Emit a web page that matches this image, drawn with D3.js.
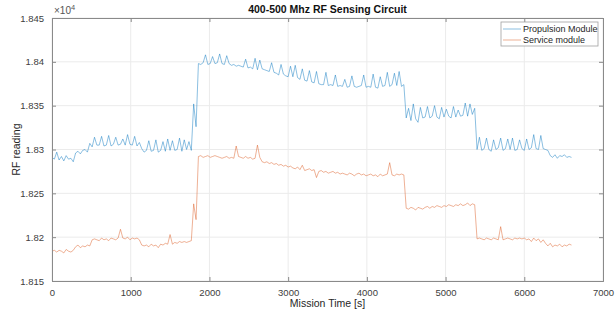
<!DOCTYPE html>
<html>
<head>
<meta charset="utf-8">
<script src="https://cdn.jsdelivr.net/npm/d3@7"></script>
<style>
  body { margin: 0; background: #fff; }
  text { font-family: "Liberation Sans", Arial, sans-serif; }
</style>
</head>
<body>
<div id="content"></div>
<script>
// readings sampled every 30 s, from t = 0 to t = 6600 s
let sampleStep = 30;

let propulsion = [
  18291, 18289, 18297, 18288, 18292, 18287, 18293, 18289, 18290, 18286,
  18296, 18298, 18295, 18299, 18300, 18297, 18307, 18303, 18314, 18305,
  18305, 18315, 18304, 18305, 18316, 18304, 18306, 18314, 18305, 18306,
  18312, 18305, 18317, 18306, 18305, 18315, 18304, 18308, 18301, 18297,
  18299, 18310, 18298, 18299, 18311, 18297, 18299, 18309, 18298, 18312,
  18299, 18310, 18299, 18300, 18313, 18298, 18311, 18300, 18309, 18299,
  18352, 18326, 18398, 18397, 18399, 18408, 18397, 18398, 18406, 18398,
  18399, 18409, 18398, 18397, 18407, 18398, 18396, 18397, 18395, 18396,
  18395, 18394, 18403, 18393, 18394, 18392, 18404, 18391, 18402, 18392,
  18391, 18390, 18389, 18399, 18388, 18387, 18385, 18397, 18386, 18384,
  18383, 18395, 18383, 18396, 18382, 18380, 18392, 18379, 18378, 18390,
  18377, 18376, 18389, 18375, 18374, 18374, 18388, 18373, 18374, 18373,
  18385, 18372, 18373, 18372, 18380, 18371, 18372, 18384, 18372, 18371,
  18372, 18373, 18385, 18371, 18372, 18371, 18386, 18371, 18370, 18383,
  18372, 18373, 18388, 18372, 18374, 18387, 18373, 18389, 18372, 18374,
  18336, 18347, 18333, 18352, 18335, 18331, 18348, 18336, 18337, 18349,
  18336, 18338, 18350, 18337, 18335, 18348, 18337, 18346, 18338, 18336,
  18349, 18337, 18345, 18338, 18339, 18353, 18338, 18352, 18340, 18347,
  18300, 18314, 18299, 18301, 18313, 18300, 18298, 18311, 18300, 18302,
  18313, 18299, 18301, 18312, 18300, 18313, 18299, 18300, 18311, 18301,
  18299, 18312, 18300, 18302, 18317, 18301, 18300, 18316, 18301, 18300,
  18299, 18293, 18291, 18294, 18290, 18293, 18292, 18294, 18291, 18292,
  18291
];

let service = [
  18184, 18185, 18183, 18185, 18184, 18182, 18186, 18184, 18183, 18185,
  18189, 18191, 18188, 18190, 18189, 18191, 18190, 18197, 18198, 18197,
  18196, 18199, 18197, 18198, 18196, 18199, 18198, 18197, 18199, 18209,
  18199, 18198, 18200, 18197, 18199, 18198, 18199, 18197, 18191, 18190,
  18191, 18189, 18192, 18190, 18191, 18188, 18192, 18191, 18193, 18192,
  18203, 18192, 18194, 18193, 18195, 18194, 18195, 18194, 18195, 18196,
  18238, 18220, 18292, 18293, 18291, 18292, 18293, 18291, 18292, 18293,
  18292, 18291, 18290, 18291, 18292, 18290, 18291, 18290, 18304, 18292,
  18291, 18290, 18292, 18290, 18291, 18289, 18290, 18305, 18291, 18286,
  18285, 18286, 18284, 18285, 18283, 18284, 18282, 18283, 18281, 18282,
  18280, 18281, 18279, 18278, 18280, 18277, 18282, 18276, 18277, 18278,
  18276, 18277, 18268, 18275, 18276, 18274, 18275, 18273, 18274, 18275,
  18273, 18274, 18272, 18273, 18272, 18271, 18273, 18272, 18270, 18272,
  18273, 18271, 18272, 18270, 18271, 18272, 18270, 18271, 18269, 18272,
  18270, 18271, 18272, 18285, 18271, 18270, 18272, 18271, 18272, 18271,
  18233, 18232, 18234, 18233, 18231, 18234, 18233, 18232, 18234, 18235,
  18233, 18235, 18234, 18236, 18235, 18234, 18236, 18235, 18237, 18236,
  18235, 18237, 18236, 18238, 18236, 18237, 18239, 18236, 18238, 18237,
  18198, 18199, 18198, 18197, 18199, 18198, 18197, 18199, 18198, 18197,
  18212, 18197, 18198, 18199, 18198, 18197, 18199, 18198, 18199, 18198,
  18199, 18197, 18198, 18195, 18199, 18196, 18198, 18194, 18197, 18193,
  18190, 18193, 18189, 18191, 18190, 18192, 18189, 18191, 18190, 18192,
  18191
];

let seriesNames = ["Propulsion Module", "Service module"];
let seriesColors = ["#0072BD", "#D95319"];
let xTicks = [0, 1000, 2000, 3000, 4000, 5000, 6000, 7000];
let yTicks = [18150, 18200, 18250, 18300, 18350, 18400, 18450];

let width = 616;
let height = 312;
let margin = {top: 18, right: 13, bottom: 31, left: 52};
let plotW = width - margin.left - margin.right;
let plotH = height - margin.top - margin.bottom;

let svg = d3.select("#content").append("svg")
  .attr("width", width)
  .attr("height", height);

let x = d3.scaleLinear().domain([0, 7000]).range([0, plotW]);
let y = d3.scaleLinear().domain([18150, 18450]).range([plotH, 0]);

let g = svg.append("g").attr("transform", `translate(${margin.left},${margin.top})`);

g.append("rect").attr("width", plotW).attr("height", plotH).attr("fill", "#fff");

// grid
g.append("g").selectAll("line").data(xTicks).enter().append("line")
  .attr("x1", d => x(d)).attr("x2", d => x(d))
  .attr("y1", 0).attr("y2", plotH)
  .attr("stroke", "#ebebeb").attr("stroke-width", 1);
g.append("g").selectAll("line").data(yTicks).enter().append("line")
  .attr("y1", d => y(d)).attr("y2", d => y(d))
  .attr("x1", 0).attr("x2", plotW)
  .attr("stroke", "#ebebeb").attr("stroke-width", 1);

// lines
let line = d3.line()
  .x((d, i) => x(i * sampleStep))
  .y(d => y(d));

[propulsion, service].forEach(function(values, k) {
  g.append("path")
    .datum(values)
    .attr("d", line)
    .attr("fill", "none")
    .attr("stroke", seriesColors[k])
    .attr("stroke-width", 0.7)
    .attr("stroke-opacity", 0.65)
    .attr("stroke-linejoin", "round");
});

// axes, ticks inward, box on all sides
let axisColor = "#8a8a8a";
let tickFmtX = d3.format("d");
let tickFmtY = d => d3.format("")(+(d / 10000).toFixed(3));

let xAxis = g.append("g").attr("transform", `translate(0,${plotH})`)
  .call(d3.axisBottom(x).tickValues(xTicks).tickSize(-4).tickPadding(8).tickFormat(tickFmtX));
let xTop = g.append("g")
  .call(d3.axisTop(x).tickValues(xTicks).tickSize(-4).tickFormat(""));
let yAxis = g.append("g")
  .call(d3.axisLeft(y).tickValues(yTicks).tickSize(-4).tickPadding(8).tickFormat(tickFmtY));
let yRight = g.append("g").attr("transform", `translate(${plotW},0)`)
  .call(d3.axisRight(y).tickValues(yTicks).tickSize(-4).tickFormat(""));

[xAxis, xTop, yAxis, yRight].forEach(function(a) {
  a.select(".domain").attr("stroke", axisColor);
  a.selectAll(".tick line").attr("stroke", axisColor);
  a.selectAll(".tick text")
    .attr("fill", "#404040")
    .style("font-size", "9.5px")
    .style("font-family", "'Liberation Sans', Arial, sans-serif");
});

// exponent label
let expo = svg.append("text")
  .attr("x", margin.left + 2).attr("y", margin.top - 4)
  .attr("fill", "#555").style("font-size", "10px");
expo.append("tspan").text("\u00d710");
expo.append("tspan").attr("dy", -4).style("font-size", "7.5px").text("4");

// title
svg.append("text")
  .attr("x", margin.left + plotW / 2).attr("y", 13)
  .attr("text-anchor", "middle")
  .attr("fill", "#111")
  .style("font-size", "10.5px").style("font-weight", "bold")
  .text("400-500 Mhz RF Sensing Circuit");

// axis labels
svg.append("text")
  .attr("x", margin.left + plotW / 2).attr("y", 307)
  .attr("text-anchor", "middle")
  .attr("fill", "#262626").style("font-size", "10.5px")
  .text("Mission Time [s]");
svg.append("text")
  .attr("transform", `translate(20,${margin.top + plotH / 2}) rotate(-90)`)
  .attr("text-anchor", "middle")
  .attr("fill", "#262626").style("font-size", "10.5px")
  .text("RF reading");

// legend
let legend = svg.append("g").attr("transform", "translate(501,22)");
legend.append("rect")
  .attr("width", 97).attr("height", 24)
  .attr("fill", "#fff").attr("stroke", "#a0a0a0").attr("stroke-width", 0.8);
seriesNames.forEach(function(name, k) {
  let ly = 7 + k * 11;
  legend.append("line")
    .attr("x1", 2).attr("x2", 20).attr("y1", ly).attr("y2", ly)
    .attr("stroke", seriesColors[k]).attr("stroke-width", 0.7).attr("stroke-opacity", 0.65);
  legend.append("text")
    .attr("x", 22).attr("y", ly + 3)
    .attr("fill", "#262626").style("font-size", "9px")
    .text(name);
});
</script>
</body>
</html>
